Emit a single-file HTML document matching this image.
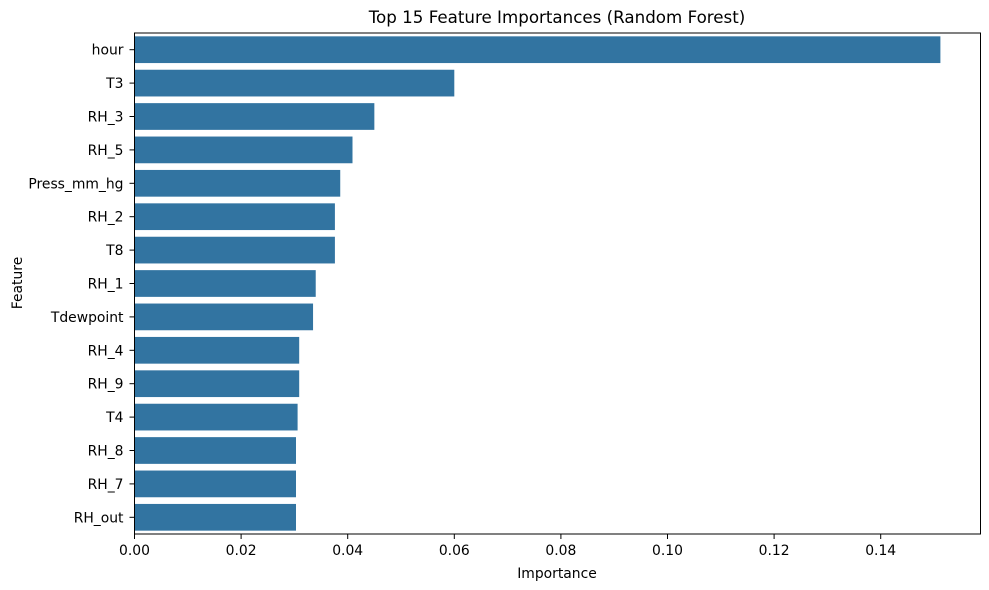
<!DOCTYPE html>
<html><head><meta charset="utf-8"><style>
body{margin:0;background:#fff;}
svg{display:block;font-family:"DejaVu Sans","Liberation Sans",sans-serif;}
</style></head><body>
<svg id="chart" width="989" height="590">
<text x="557" y="23" text-anchor="middle" font-size="16.7" fill="#000">Top 15 Feature Importances (Random Forest)</text>
<g id="bars"></g>
<g id="yaxis"></g>
<g id="xaxis"></g>
<rect x="134.5" y="33" width="846" height="501" fill="none" stroke="#000" stroke-width="1"/>
<text x="557" y="578" text-anchor="middle" font-size="13.9">Importance</text>
<text transform="translate(22,283) rotate(-90)" text-anchor="middle" font-size="13.9">Feature</text>
</svg>
<script>
const features=["hour","T3","RH_3","RH_5","Press_mm_hg","RH_2","T8","RH_1","Tdewpoint","RH_4","RH_9","T4","RH_8","RH_7","RH_out"];
const importances=[0.1512,0.0600,0.0450,0.0409,0.0386,0.0376,0.0376,0.0340,0.0335,0.0309,0.0309,0.0306,0.0303,0.0303,0.0303];
const xTicks=[0,0.02,0.04,0.06,0.08,0.10,0.12,0.14];
const xTickLabels=["0.00","0.02","0.04","0.06","0.08","0.10","0.12","0.14"];
const NS="http://www.w3.org/2000/svg";
const L=134.5,T=33,B=534,pxPer=106.6/0.02;
const band=(B-T)/features.length;
function xs(v){return L+v*pxPer;}
function yc(i){return T+band*(i+0.5);}
function mk(t,a){const e=document.createElementNS(NS,t);for(const k in a)e.setAttribute(k,a[k]);return e;}
const gb=document.getElementById('bars'),gy=document.getElementById('yaxis'),gx=document.getElementById('xaxis');
features.forEach((f,i)=>{
 const r=mk('rect',{x:xs(0),y:yc(i)-band*0.4,width:xs(importances[i])-xs(0),height:band*0.8,fill:'#3274a1'});
 
 
 gb.appendChild(r);
 const tk=mk('line',{x1:L-5,x2:L,y1:yc(i),y2:yc(i),stroke:'#000'});
 
 
 gy.appendChild(tk);
 const tx=mk('text',{x:L-11,y:yc(i)+5,'text-anchor':'end','font-size':'13.9'});
 tx.textContent=f;
 
 
 gy.appendChild(tx);
});
xTicks.forEach((v,i)=>{
 const tk=mk('line',{x1:xs(v),x2:xs(v),y1:B,y2:B+5,stroke:'#000'});
 
 
 gx.appendChild(tk);
 const tx=mk('text',{x:xs(v),y:B+21,'text-anchor':'middle','font-size':'13.9'});
 tx.textContent=xTickLabels[i];
 
 
 gx.appendChild(tx);
});
</script>
</body></html>
